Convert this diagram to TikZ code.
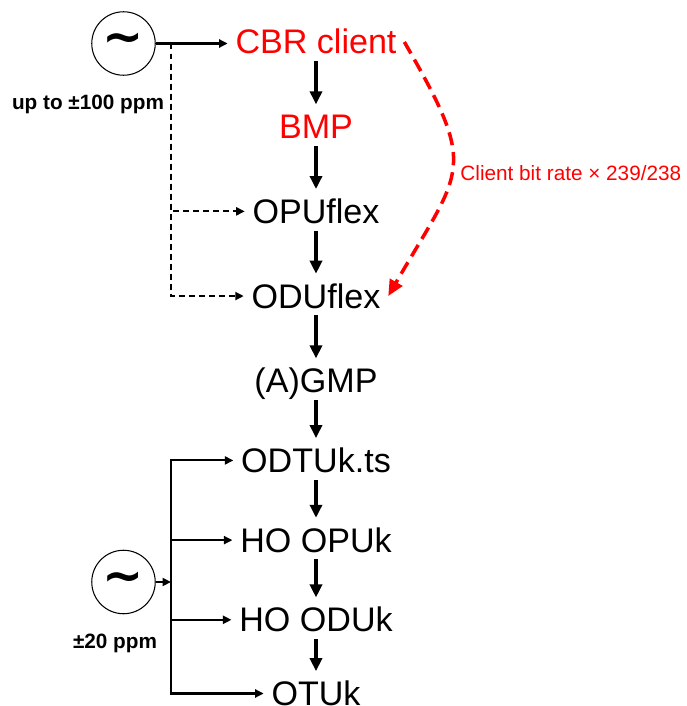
\documentclass[tikz,border=0pt]{standalone}
\usepackage{fontspec}
\setmainfont{Liberation Sans}
\newfontfamily\symfont{DejaVu Sans}
\usepackage{tikz}
\usetikzlibrary{positioning,arrows.meta}
\definecolor{clientred}{RGB}{255,0,0}
\newcommand{\osctilde}{{\symfont\bfseries\fontsize{28}{28}\selectfont ∼}}
\tikzset{
  layerbox/.style={inner xsep=0.15cm,inner ysep=0pt,text height=0.48cm,text depth=0pt,font=\fontsize{19.4}{22}\selectfont},
  clientbox/.style={layerbox,text=clientred},
  oscbox/.style={circle,draw=black,line width=0.6pt,minimum size=1.27cm,inner sep=0pt},
  ppmtext/.style={inner sep=0pt,font=\bfseries\fontsize{11.8}{13}\selectfont},
  ratetext/.style={text=clientred,inner xsep=4pt,font=\fontsize{11.8}{13}\selectfont},
  flowdown/.style={-{Triangle[length=2.6mm,width=2.4mm]},line width=2pt,shorten <=0.14cm,shorten >=0.2cm},
  feed/.style={-{Triangle[length=1.7mm,width=1.6mm]},line width=1.2pt},
  dashfeed/.style={feed,dash pattern=on 3.4pt off 2.3pt},
  rateedge/.style={-{Triangle[length=3.2mm,width=2.8mm]},line width=2pt,draw=clientred,dash pattern=on 7.5pt off 4pt}
}
\begin{document}
\begin{tikzpicture}[x=0.02cm,y=-0.02cm,node distance=1.2cm]
  \useasboundingbox (0,0) rectangle (686,706);
  % mapping chain
  \node[clientbox,anchor=base] (cbr) at (316,54) {CBR client};
  \node[clientbox,below=of cbr] (bmp) {BMP};
  \node[layerbox,below=of bmp] (opu) {OPUflex};
  \node[layerbox,below=of opu] (odu) {ODUflex};
  \node[layerbox,below=of odu] (gmp) {(A)GMP};
  \node[layerbox,below=1.1cm of gmp] (odtu) {ODTUk.ts};
  \node[layerbox,below=1.1cm of odtu] (hoopu) {HO OPUk};
  \node[layerbox,below=1.1cm of hoopu] (hoodu) {HO ODUk};
  \node[layerbox,below=0.98cm of hoodu] (otu) {OTUk};
  \draw[flowdown] (cbr) -- (bmp);
  \draw[flowdown] (bmp) -- (opu);
  \draw[flowdown] (opu) -- (odu);
  \draw[flowdown] (odu) -- (gmp);
  \draw[flowdown] (gmp) -- (odtu);
  \draw[flowdown] (odtu) -- (hoopu);
  \draw[flowdown] (hoopu) -- (hoodu);
  \draw[flowdown] (hoodu) -- (otu);
  % client clock
  \node[oscbox] (clk1) at (123.5,43.5) {\osctilde};
  \node[ppmtext,anchor=base] (ppm1) at (88,110) {up to ±100 ppm};
  \coordinate (tap1) at (171,43.5);
  \draw[feed] (clk1) -- (clk1 -| cbr.west);
  \draw[dashfeed] (tap1) |- (opu.west);
  \draw[dashfeed] (tap1) |- (odu.west);
  % line clock
  \node[oscbox] (clk2) at (123.5,582) {\osctilde};
  \node[ppmtext,anchor=base] (ppm2) at (115,648) {±20 ppm};
  \coordinate (tap2) at (171,582);
  \draw[feed] (clk2) -- (tap2);
  \draw[feed] (tap2) |- (odtu.west);
  \draw[feed] (tap2) |- (hoopu.west);
  \draw[feed] (tap2) |- (hoodu.west);
  \draw[feed] (tap2) |- (otu.west);
  % ODUflex rate
  \draw[rateedge] (cbr.east) to[out=-60,in=60,looseness=1.5]
    node[ratetext,pos=0.52,right] (ratio) {Client bit rate × 239/238} (odu.east);
\end{tikzpicture}
\end{document}
